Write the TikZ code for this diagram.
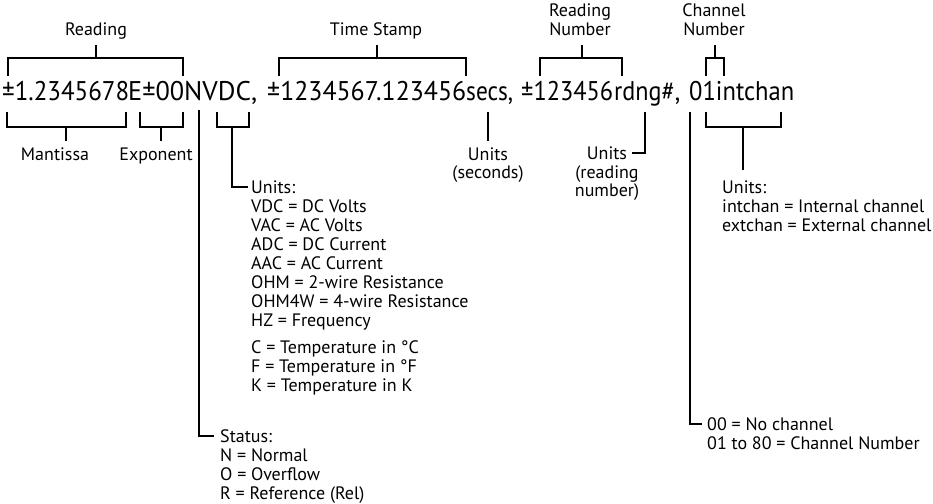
\documentclass[tikz,border=0pt]{standalone}
\usepackage{fontspec}
\setmainfont{PT Sans}
\newcommand\fitw[2]{\resizebox{#1pt}{\height}{#2}}
\begin{document}
\begin{tikzpicture}[x=1pt,y=-1pt,
  br/.style={line width=1.8pt, line cap=butt, line join=miter},
  mainf/.style={inner sep=0pt, anchor=base west, font=\fontsize{27}{30}\selectfont},
  lbl/.style={inner sep=0pt, anchor=base, font=\fontsize{18}{19}\selectfont},
  lst/.style={inner sep=0pt, anchor=base west, font=\fontsize{18}{19}\selectfont},
]
\useasboundingbox (0,0) rectangle (933,503);
% main record string, set in pieces fitted to the reference positions
\node[mainf] (mA) at (2,100)   {\fitw{127}{±1.2345678}};
\node[mainf] (mB) at (128,100) {\fitw{56}{E±00}};
\node[mainf] (mC) at (184,100) {\fitw{73}{NVDC,}};
\node[mainf] (mD) at (267,100) {\fitw{199}{±1234567.123456}};
\node[mainf] (mE) at (466,100) {\fitw{47}{secs,}};
\node[mainf] (mF) at (521,100) {\fitw{92}{±123456}};
\node[mainf] (mG) at (614,100) {\fitw{66}{rdng\#,}};
\node[mainf] (mH) at (689,100) {\fitw{105}{01intchan}};

% top labels
\node[lbl] (lReading) at (96,36) {Reading};
\node[lbl] (lTime) at (376,36) {Time Stamp};
\node[lbl] (lRNa) at (580,17) {Reading};
\node[lbl] (lRNb) at (580,36) {Number};
\node[lbl] (lCNa) at (714,17) {Channel};
\node[lbl] (lCNb) at (714,36) {Number};

% bottom labels
\node[lbl] (lMant) at (55,160) {Mantissa};
\node[lbl] (lExp) at (156,160) {Exponent};
\node[lbl] (lSecA) at (488,160) {Units};
\node[lbl] (lSecB) at (488,178) {(seconds)};
\node[lbl] (lRdA) at (607,159) {Units};
\node[lbl] (lRdB) at (607,178) {(reading};
\node[lbl] (lRdC) at (607,196) {number)};

% units list
\foreach \t [count=\i from 0] in {Units:, VDC = DC Volts, VAC = AC Volts, ADC = DC Current,
  AAC = AC Current, OHM = 2-wire Resistance, OHM4W = 4-wire Resistance, HZ = Frequency}
  \node[lst] (u\i) at (251,193+19*\i) {\t};
\node[lst] (tC) at (251,353) {C = Temperature in °C};
\node[lst] (tF) at (251,372) {F = Temperature in °F};
\node[lst] (tK) at (251,391) {K = Temperature in K};

% status list
\node[lst] (s0) at (220,442) {Status:};
\node[lst] (s1) at (220,461) {N = Normal};
\node[lst] (s2) at (220,480) {O = Overflow};
\node[lst] (s3) at (220,499) {R = Reference (Rel)};

% channel units list
\node[lst] (c0) at (722,193) {Units:};
\node[lst] (c1) at (722,212) {intchan = Internal channel};
\node[lst] (c2) at (722,231) {extchan = External channel};

% channel number list
\node[lst] (n0) at (707,430) {00 = No channel};
\node[lst] (n1) at (707,449) {01 to 80 = Channel Number};

% top brackets
\draw[br] (8,76) |- (183,58) -- (183,76);   \draw[br] (96,58) -- (96,45);
\draw[br] (279,76) |- (466,58) -- (466,76); \draw[br] (377,58) -- (377,45);
\draw[br] (540,76) |- (622,58) -- (622,76); \draw[br] (582,58) -- (582,45);
\draw[br] (706,76) |- (724,58) -- (724,76); \draw[br] (715,58) -- (715,45);

% bottom brackets
\draw[br] (7,112) |- (126,127) -- (126,112);   \draw[br] (66,127) -- (66,141);
\draw[br] (140,112) |- (183,127) -- (183,112); \draw[br] (161,127) -- (161,141);
\draw[br] (217,112) |- (249,127) -- (249,112); \draw[br] (232,127) |- ([xshift=-3pt]u0.west);
\draw[br] (706,112) |- (781,127) -- (781,112); \draw[br] (743,127) -- (743,170);

% single leaders
\coordinate (stA) at (199,110);
\draw[br] (stA) |- ([xshift=-6pt]s0.west);
\coordinate (secA) at (488,112);
\draw[br] (secA) -- (488,141);
\coordinate (rdA) at (645,112);
\draw[br] (rdA) |- ([xshift=5pt]lRdA.east);
\coordinate (chA) at (690,112);
\draw[br] (chA) |- ([xshift=-5pt]n0.west);
\end{tikzpicture}
\end{document}
